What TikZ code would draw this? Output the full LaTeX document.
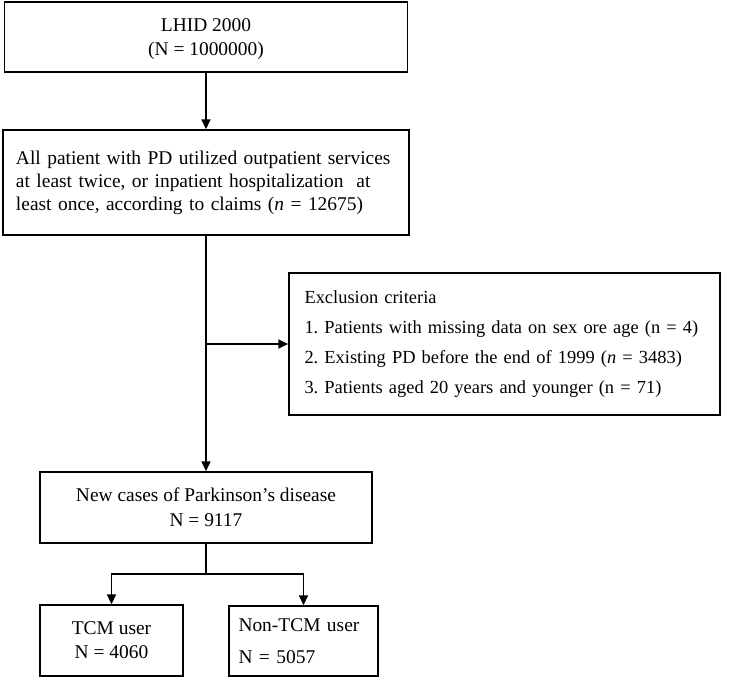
\documentclass[tikz,border=0pt]{standalone}
\usepackage{fontspec}
\setmainfont{Liberation Serif}
\usetikzlibrary{arrows.meta}
\frenchspacing

\begin{document}
\begin{tikzpicture}[x=1bp,y=-1bp,
  box/.style={draw,line width=1.4bp,inner sep=0pt,font=\fontsize{19.5}{24}\selectfont},
  arr/.style={-{Triangle[length=10bp,width=9bp]},line width=1.6bp}]
  \useasboundingbox (0,0) rectangle (754,678);
  \node[box,minimum width=403bp,minimum height=70bp,align=center,text depth=-6bp,font=\fontsize{19.5}{24}\selectfont] (lhid) at (206,37) {LHID 2000\\(N = 1000000)};
  \node[box,minimum width=406bp,minimum height=105bp,text width=380bp,align=left,font=\fontsize{19.5}{23}\selectfont] (all) at (206,182.5)
    {All patient with PD utilized outpatient services\\at least twice, or inpatient hospitalization\ \ at\\least once, according to claims (\textit{n} = 12675)};
  \node[box,minimum width=431bp,minimum height=142bp,text width=400bp,align=left,font=\fontsize{18.5}{30}\selectfont] (excl) at (504.5,344)
    {Exclusion\ criteria\\
     1. Patients with missing\ data on sex ore age (n = 4)\\
     2. Existing PD before the end of 1999 (\textit{n} = 3483)\\
     3. Patients aged 20 years and younger (n = 71)};
  \node[box,minimum width=332bp,minimum height=71bp,align=center,text depth=-2bp,font=\fontsize{19.5}{25}\selectfont] (new) at (206,507.5) {New cases of Parkinson’s disease\\N = 9117};
  \node[box,minimum width=143bp,minimum height=71bp,align=center,text depth=-1bp] (tcm) at (111.5,640.5) {TCM user\\N = 4060};
  \node[box,minimum width=149bp,minimum height=70bp,text width=130bp,align=left,font=\fontsize{19.5}{32}\selectfont] (non) at (303.5,641) {Non-TCM user\\N = 5057};
  \coordinate (split) at (206,344);
  \coordinate (fork) at (206,574);
  \draw[arr] (lhid.south) -- (all.north);
  \draw[arr] (all.south) -- (new.north);
  \draw[arr] (split) -- (excl.west);
  \draw[line width=1.6bp] (new.south) -- (fork);
  \draw[arr] (fork) -| (tcm.north);
  \draw[arr] (fork) -| (non.north);
\end{tikzpicture}
\end{document}
